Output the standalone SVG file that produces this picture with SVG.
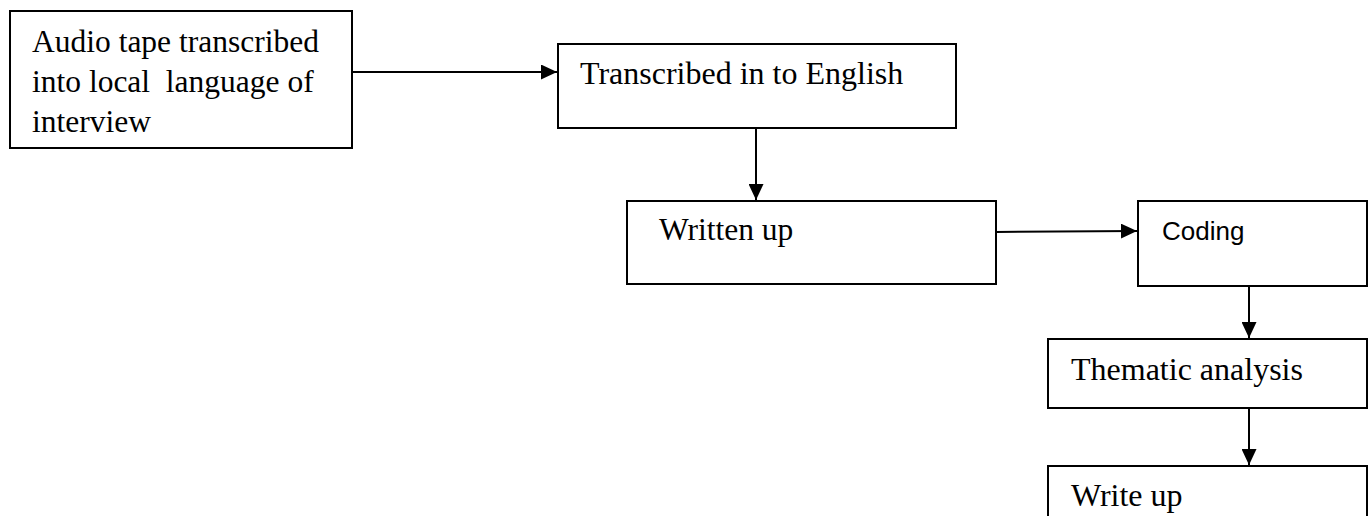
<svg xmlns="http://www.w3.org/2000/svg" width="1371" height="516" viewBox="0 0 1371 516">
<style>
.box{fill:#fff;stroke:#000;stroke-width:2}
.t{font-family:"Liberation Serif","Times New Roman",serif;fill:#000}
.s{font-family:"Liberation Sans",Arial,sans-serif;fill:#000}
.c{stroke:#000;stroke-width:2;fill:none}
</style>
<defs>
<marker id="ah" markerWidth="16" markerHeight="15" refX="16" refY="7.5" orient="auto" markerUnits="userSpaceOnUse">
<path d="M0,0 L16,7.5 L0,15 Z" fill="#000"/>
</marker>
</defs>
<g id="n1">
<rect class="box" x="10" y="11" width="342" height="137"/>
<text class="t" font-size="31.5" xml:space="preserve"><tspan x="32" y="52">Audio tape transcribed</tspan><tspan x="32" y="92">into local  language of</tspan><tspan x="32" y="132">interview</tspan></text>
</g>
<g id="n2">
<rect class="box" x="558" y="44" width="398" height="84"/>
<text class="t" x="580" y="84" font-size="32">Transcribed in to English</text>
</g>
<g id="n3">
<rect class="box" x="627" y="201" width="369" height="83"/>
<text class="t" x="659" y="240" font-size="31.5">Written up</text>
</g>
<g id="n4">
<rect class="box" x="1138" y="201" width="229" height="85"/>
<text class="s" x="1162" y="240" font-size="26">Coding</text>
</g>
<g id="n5">
<rect class="box" x="1048" y="339" width="319" height="69"/>
<text class="t" x="1071" y="380" font-size="32">Thematic analysis</text>
</g>
<g id="n6">
<rect class="box" x="1048" y="466" width="319" height="60"/>
<text class="t" x="1071" y="506" font-size="32">Write up</text>
</g>
<g id="connectors">
<line class="c" x1="352" y1="72" x2="557" y2="72" marker-end="url(#ah)"/>
<line class="c" x1="756" y1="128" x2="756" y2="200" marker-end="url(#ah)"/>
<line class="c" x1="996" y1="232" x2="1137" y2="231" marker-end="url(#ah)"/>
<line class="c" x1="1249" y1="286" x2="1249" y2="338" marker-end="url(#ah)"/>
<line class="c" x1="1249" y1="408" x2="1249" y2="465" marker-end="url(#ah)"/>
</g>
</svg>
